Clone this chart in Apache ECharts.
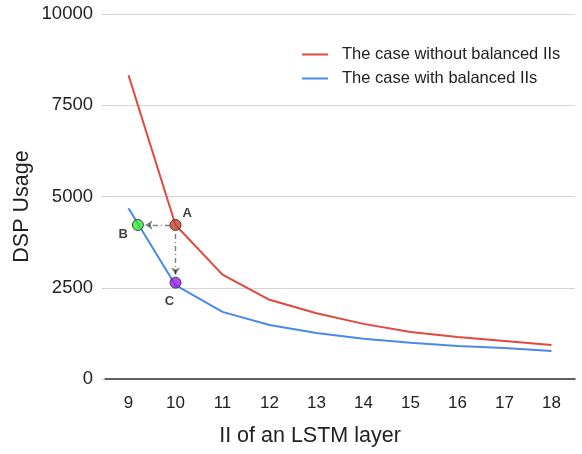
<!DOCTYPE html>
<html>
<head>
<meta charset="utf-8">
<script src="https://cdn.jsdelivr.net/npm/echarts@6/dist/echarts.min.js"></script>
<style>
  html, body { margin: 0; padding: 0; background: #fff; }
  #main { width: 582px; height: 454px; }
</style>
</head>
<body>
<div id="main"></div>
<script>
// II values on x axis
const iiLabels = ['9', '10', '11', '12', '13', '14', '15', '16', '17', '18'];
// DSP usage
const withoutBalanced = [8320, 4220, 2860, 2170, 1800, 1510, 1290, 1150, 1040, 930];
const withBalanced = [4680, 2570, 1840, 1480, 1260, 1100, 990, 905, 850, 770];
const yTicks = [0, 2500, 5000, 7500, 10000];

// annotated points (x in II units, y in DSP)
const ptA = [10, 4220];
const ptB = [9.2, 4220];
const ptC = [10, 2640];

const chart = echarts.init(document.getElementById('main'));

const font = '"Liberation Sans", Arial, sans-serif';
const arrowLine = { color: '#000', width: 1.4, type: [5, 3, 1, 3] };

const option = {
  animation: false,
  textStyle: { fontFamily: font },
  grid: { left: 105, right: 7, top: 14, bottom: 75 },
  legend: {
    top: 41,
    left: 297,
    orient: 'vertical',
    itemWidth: 26,
    itemHeight: 2,
    itemGap: 7,
    icon: 'rect',
    textStyle: { fontSize: 16.5, lineHeight: 17, color: '#222', fontFamily: font, padding: [0, 0, 0, 9] },
    data: ['The case without balanced IIs', 'The case with balanced IIs']
  },
  xAxis: [{
    type: 'category',
    data: iiLabels,
    boundaryGap: true,
    name: 'II of an LSTM layer',
    nameLocation: 'middle',
    nameGap: 46,
    nameTextStyle: { fontSize: 21.5, color: '#222', padding: [0, 60, 0, 0] },
    axisLine: { lineStyle: { color: '#333', width: 1.5 } },
    axisTick: { show: false },
    axisLabel: { fontSize: 17, color: '#222', margin: 16 }
  }, {
    type: 'value',
    min: 8.5,
    max: 18.5,
    show: false
  }],
  yAxis: {
    type: 'value',
    min: 0,
    max: 10000,
    interval: 2500,
    name: 'DSP Usage',
    nameLocation: 'middle',
    nameGap: 72,
    nameMoveOverlap: false,
    nameTextStyle: { fontSize: 21.5, color: '#222', padding: [0, 20, 0, 0] },
    axisLine: { show: false },
    axisTick: { show: true, length: 3, lineStyle: { color: '#ccc' } },
    axisLabel: {
      fontSize: 18.5, color: '#222', margin: 12,
      formatter: v => yTicks.includes(v) ? String(v) : ''
    },
    splitLine: { lineStyle: { color: '#d6d6d6' } }
  },
  series: [{
    name: 'The case without balanced IIs',
    type: 'line',
    data: withoutBalanced,
    symbol: 'none',
    color: '#e2483d',
    lineStyle: { width: 2 }
  }, {
    name: 'The case with balanced IIs',
    type: 'line',
    data: withBalanced,
    symbol: 'none',
    color: '#4a89e8',
    lineStyle: { width: 2 }
  }, {
    name: 'arrows',
    type: 'lines',
    coordinateSystem: 'cartesian2d',
    xAxisIndex: 1,
    symbol: ['none', 'arrow'],
    symbolSize: 7,
    lineStyle: arrowLine,
    data: [
      { coords: [[ptA[0] - 0.12, ptA[1]], [ptB[0] + 0.16, ptB[1]]] },
      { coords: [[ptA[0], ptA[1] - 250], [ptC[0], ptC[1] + 220]] }
    ],
    z: 5
  }, {
    name: 'points',
    type: 'scatter',
    xAxisIndex: 1,
    symbolSize: 11,
    itemStyle: { borderColor: '#222', borderWidth: 1 },
    label: {
      show: true,
      fontSize: 13,
      fontWeight: 'bold',
      color: '#111',
      fontFamily: font,
      formatter: p => p.name
    },
    data: [
      { name: 'A', value: ptA, itemStyle: { color: '#c2452b' }, label: { position: 'right', offset: [-4, -12] } },
      { name: 'B', value: ptB, itemStyle: { color: '#33ee33' }, label: { position: 'left', offset: [1, 9] } },
      { name: 'C', value: ptC, itemStyle: { color: '#9a1ee8' }, label: { position: 'bottom', offset: [-6, 1] } }
    ],
    z: 10
  }]
};

chart.setOption(option);
</script>
</body>
</html>
